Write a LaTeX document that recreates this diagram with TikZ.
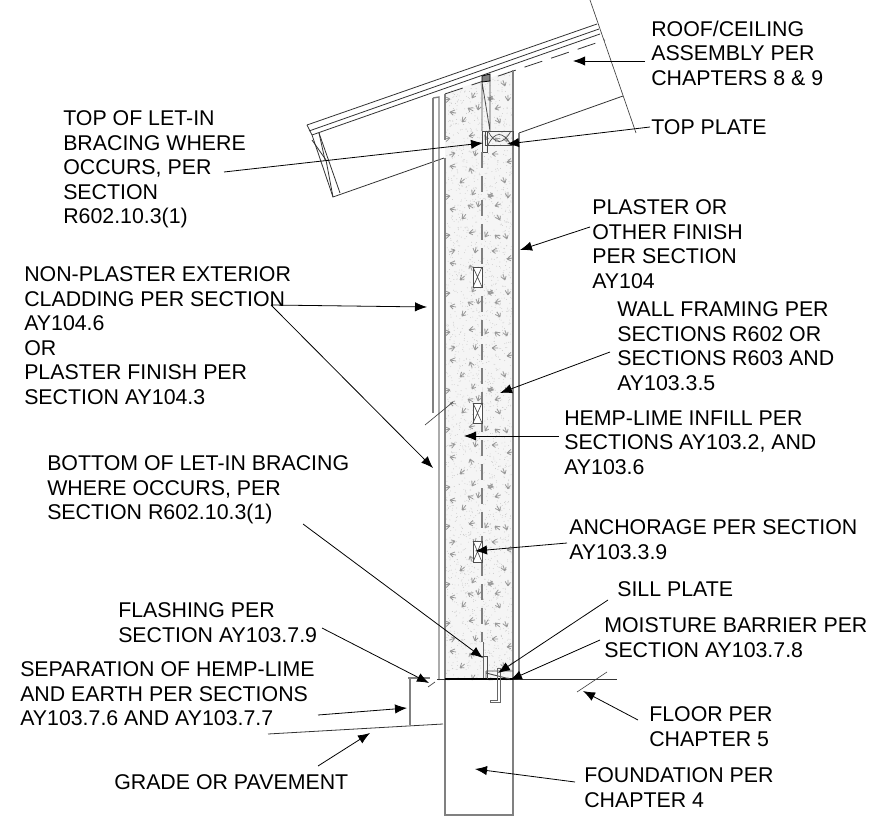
\documentclass[tikz,border=0pt]{standalone}
\usepackage{fontspec}
\setmainfont{Liberation Sans}
\usetikzlibrary{arrows.meta}

\begin{document}
\begin{tikzpicture}[x=0.75pt,y=-0.75pt]
		
		\tikzstyle{every node}=[font=\fontsize{16pt}{18.4pt}\selectfont,inner sep=0pt,anchor=north west,align=left]
		\tikzstyle{leader}=[line width=0.6pt,-{Latex[length=9pt,width=7pt]}]
		\tikzstyle{plainleader}=[line width=0.5pt,black!75]
		\tikzstyle{wall}=[line width=1pt,black!50]
		\tikzstyle{roofline}=[line width=0.6pt,black!80]
		\tikzstyle{fibre}=[line width=0.6pt,black!40]
		
		\useasboundingbox (0,0) rectangle (874,816);
		
		% infill
		\begin{scope}
		\clip (445,93) -- (513,70) -- (513,680) -- (445,680) -- cycle;
		\fill[black!4] (445,60) rectangle (513,680);
		\pgfmathsetseed{3}
		\foreach \i in {1,...,2400}
			\fill[black!22] (445+68*rnd,70+610*rnd) circle (0.45);
		\foreach \row in {0,1,...,6}{
			\begin{scope}[shift={(445,78+97*\row)}]
			\foreach \mx/\my/\ma in {15/8/50,60/8/120,5/21/200,27/20/70,43/21/10,48/21/170,63/23/100,23/30/-20,33/32/90,50/31/30,5/34/0,17/44/60,55/45/130,5/60/200,24/58/20,40/62/70,50/60/-30,62/64/120,10/75/210,30/78/90,47/76/10,62/84/20,5/88/0,25/90/-60}
				\draw[fibre,shift={(\mx,\my)},rotate=\ma] (0,0) -- (5,-2) (0,0) -- (6,1) (0,0) -- (3,3);
			\end{scope}
		}
		\end{scope}
		
		% roof
		\draw[roofline] (307,125) -- (597,24);
		\draw[roofline] (309,131) -- (599,29);
		\draw[roofline] (312,135) -- (600,34);
		\draw[roofline,dash pattern=on 14pt off 7pt] (445,94) -- (605,40);
		\draw[roofline] (307,125) -- (312,135) -- (333,197) -- (444,158);
		\draw[roofline] (319,133) -- (340,193);
		\draw[roofline] (312,140) -- (326,160) -- (333,197);
		\draw[roofline] (319,133) -- (325,160);
		\draw[plainleader] (590,0) -- (636,133);
		\draw[roofline] (519,133) -- (623,96);
		
		% wall lines
		\draw[wall] (433,98) -- (433,413);
		\draw[wall] (433,98) -- (439,97) -- (439,680);
		\draw[wall] (445,94) -- (445,140);
		\draw[wall] (445,158) -- (445,680);
		\draw[wall] (513,70) -- (513,680);
		\draw[wall] (519,133) -- (519,680);
		\draw[plainleader] (425,425) -- (453,402);
		
		% top of wall
		\draw[line width=0.6pt,black!70] (482,82) -- (482,131) (482,82) -- (490,131) (490,80) -- (490,131);
		\draw[line width=0.6pt,fill=black!50] (482,76) -- (490,74) -- (490,81) -- (482,82) -- cycle;
		\draw[line width=0.7pt,black!70] (485,131) rectangle (513,145);
		\draw[line width=0.7pt,black!70] (482,131) rectangle (487,152);
		\draw[line width=0.5pt,black!70] (488,131) .. controls (495,145) and (503,145) .. (511,131);
		\draw[line width=0.5pt,black!70] (488,145) .. controls (495,131) and (503,131) .. (511,145);
		
		% centre line and studs
		\draw[line width=1pt,black!50,dash pattern=on 12pt off 6pt] (482,152) -- (482,642);
		\foreach \ytop/\yh in {267/20,403/20,541/21}{
			\begin{scope}[shift={(473,\ytop)}]
			\draw[line width=0.7pt,black!70,fill=white] (0,0) rectangle (9,\yh);
			\draw[line width=0.5pt,black!70] (0,0) -- (9,\yh) (9,0) -- (0,\yh);
			\end{scope}
		}
		
		% foundation, floor and grade
		\draw[wall] (445,680) -- (445,815) -- (513,815) -- (513,680);
		\draw[line width=0.7pt,black!80] (437,679) -- (617,679);
		\draw[line width=2pt] (445,679) -- (513,679);
		\draw[plainleader] (577,692) -- (607,672);
		\draw[plainleader] (428,687) -- (435,682);
		\draw[wall,line width=0.8pt] (408,678) -- (430,678);
		\draw[wall,line width=0.8pt] (410,678) -- (410,725);
		\draw[line width=0.6pt,black!80] (268,734) -- (443,724);
		
		% flashing, sill plate and bolt
		\draw[line width=0.7pt,black!60] (483,642) -- (483,678);
		\draw[line width=0.7pt,black!70] (482,656) -- (487,656) -- (487,679);
		\draw[line width=0.7pt,black!70] (486,671) -- (513,671) (486,671) -- (486,678) (486,673) -- (510,679);
		\draw[line width=0.7pt,black!60] (497,668) -- (500,668) -- (500,702) -- (490,702) -- (490,700) -- (497,700) -- cycle;
		
		% arrow tips
		\coordinate (roofTip) at (573,61);
		\coordinate (topBraceTip) at (483,143);
		\coordinate (topPlateTip) at (507,144);
		\coordinate (plasterTip) at (520,250);
		\coordinate (claddingTip) at (427,307);
		\coordinate (finishTip) at (433,468);
		\coordinate (framingTip) at (500,393);
		\coordinate (hempTip) at (464,436);
		\coordinate (anchorTip) at (475,551);
		\coordinate (bottomBraceTip) at (483,658);
		\coordinate (sillTip) at (498,673);
		\coordinate (barrierTip) at (510,680);
		\coordinate (flashingTip) at (429,683);
		\coordinate (separationTip) at (407,708);
		\coordinate (gradeTip) at (370,733);
		\coordinate (floorTip) at (583,691);
		\coordinate (foundationTip) at (475,769);
		
		% labels
		\node (roofLabel) at (651,20.5) {ROOF/CEILING\\ASSEMBLY PER\\CHAPTERS 8 \& 9};
		\node (topPlateLabel) at (651,119.5) {TOP PLATE};
		\node (topBraceLabel) at (63,110.5) {TOP OF LET-IN\\BRACING WHERE\\OCCURS, PER\\SECTION\\R602.10.3(1)};
		\node (claddingLabel) at (24,266.5) {NON-PLASTER EXTERIOR\\CLADDING PER SECTION\\AY104.6\\OR\\PLASTER FINISH PER\\SECTION AY104.3};
		\node (plasterLabel) at (592,199.5) {PLASTER OR\\OTHER FINISH\\PER SECTION\\AY104};
		\node (framingLabel) at (617,301.5) {WALL FRAMING PER\\SECTIONS R602 OR\\SECTIONS R603 AND\\AY103.3.5};
		\node (hempLabel) at (564,410.5) {HEMP-LIME INFILL PER\\SECTIONS AY103.2, AND\\AY103.6};
		\node (bottomBraceLabel) at (47,455.5) {BOTTOM OF LET-IN BRACING\\WHERE OCCURS, PER\\SECTION R602.10.3(1)};
		\node (anchorLabel) at (569,519.5) {ANCHORAGE PER SECTION\\AY103.3.9};
		\node (sillLabel) at (617,581.5) {SILL PLATE};
		\node (barrierLabel) at (604,617.5) {MOISTURE BARRIER PER\\SECTION AY103.7.8};
		\node (flashingLabel) at (118,602.5) {FLASHING PER\\SECTION AY103.7.9};
		\node (separationLabel) at (20,661.5) {SEPARATION OF HEMP-LIME\\AND EARTH PER SECTIONS\\AY103.7.6 AND AY103.7.7};
		\node (floorLabel) at (649,706.5) {FLOOR PER\\CHAPTER 5};
		\node (gradeLabel) at (114,774.5) {GRADE OR PAVEMENT};
		\node (foundationLabel) at (584,767.5) {FOUNDATION PER\\CHAPTER 4};
		
		% arrows
		\draw[leader] ([shift={(-6,40.5)}]roofLabel.north west) -- (roofTip);
		\draw[leader] ([shift={(-1,7.5)}]topPlateLabel.north west) -- (topPlateTip);
		\draw[leader] ([shift={(161,61.5)}]topBraceLabel.north west) -- (topBraceTip);
		\draw[leader] ([shift={(247,38.5)}]claddingLabel.north west) -- (claddingTip);
		\draw[leader] ([shift={(247,38.5)}]claddingLabel.north west) -- (finishTip);
		\draw[leader] ([shift={(-2,27.5)}]plasterLabel.north west) -- (plasterTip);
		\draw[leader] ([shift={(-7,50.5)}]framingLabel.north west) -- (framingTip);
		\draw[leader] ([shift={(-5,25.5)}]hempLabel.north west) -- (hempTip);
		\draw[leader] ([shift={(-2,23.5)}]anchorLabel.north west) -- (anchorTip);
		\draw[leader] ([shift={(256,68.5)}]bottomBraceLabel.north west) -- (bottomBraceTip);
		\draw[leader] ([shift={(-9,18.5)}]sillLabel.north west) -- (sillTip);
		\draw[leader] ([shift={(-4,22.5)}]barrierLabel.north west) -- (barrierTip);
		\draw[leader] ([shift={(204,25.5)}]flashingLabel.north west) -- (flashingTip);
		\draw[leader] ([shift={(298,53.5)}]separationLabel.north west) -- (separationTip);
		\draw[leader] ([shift={(204,-8.5)}]gradeLabel.north west) -- (gradeTip);
		\draw[leader] ([shift={(-11,13.5)}]floorLabel.north west) -- (floorTip);
		\draw[leader] ([shift={(-9,14.5)}]foundationLabel.north west) -- (foundationTip);
		
		\end{tikzpicture}
\end{document}
